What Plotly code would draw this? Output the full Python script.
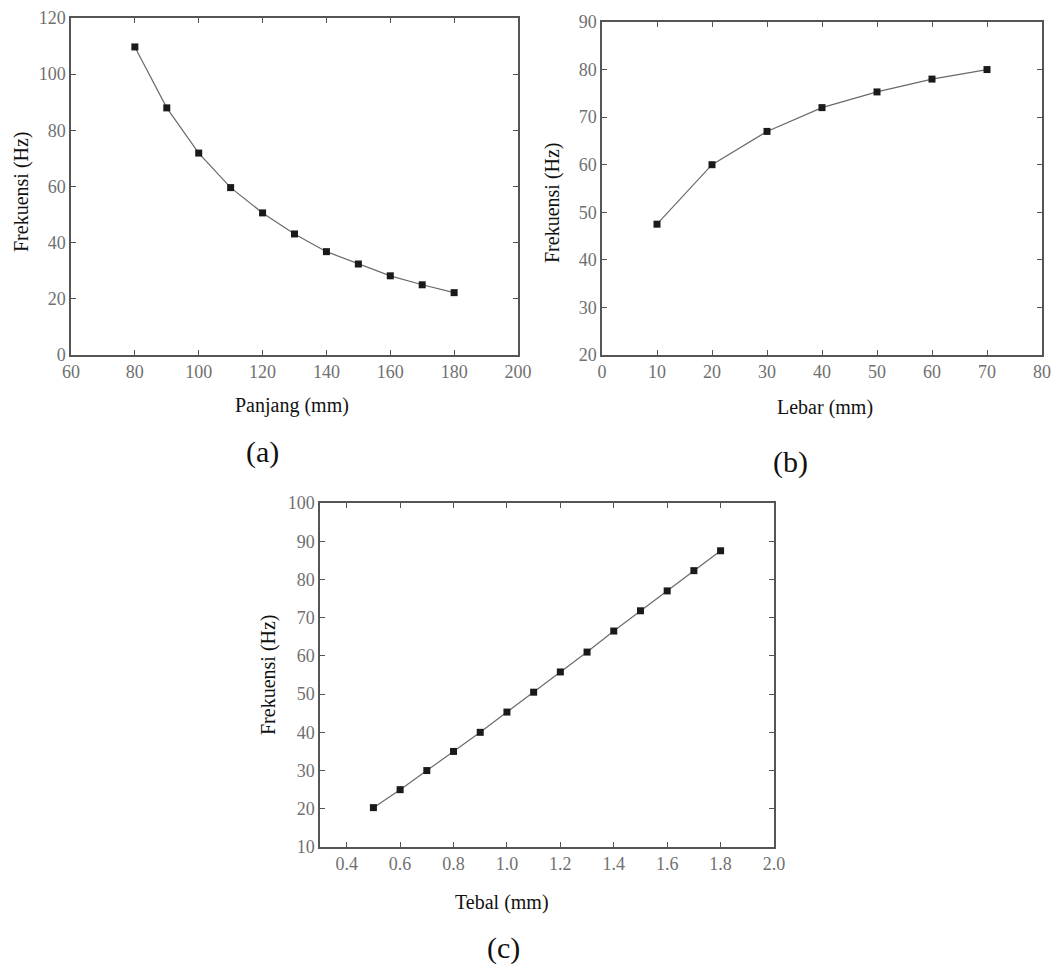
import plotly.graph_objects as go

W, H = 1056, 964

# (a) Panjang vs Frekuensi
panjang = [80, 90, 100, 110, 120, 130, 140, 150, 160, 170, 180]
frek_a = [109.7, 88.0, 71.9, 59.6, 50.6, 43.1, 36.8, 32.4, 28.2, 25.0, 22.2]

# (b) Lebar vs Frekuensi
lebar = [10, 20, 30, 40, 50, 60, 70]
frek_b = [47.5, 60.0, 67.0, 72.0, 75.3, 78.0, 80.0]

# (c) Tebal vs Frekuensi
tebal = [0.5, 0.6, 0.7, 0.8, 0.9, 1.0, 1.1, 1.2, 1.3, 1.4, 1.5, 1.6, 1.7, 1.8]
frek_c = [20.3, 25.0, 30.0, 35.0, 40.0, 45.3, 50.5, 55.8, 61.0, 66.5, 71.8, 77.0, 82.3, 87.5]

ticks_a_x = [60, 80, 100, 120, 140, 160, 180, 200]
ticks_a_y = [0, 20, 40, 60, 80, 100, 120]
ticks_b_x = [0, 10, 20, 30, 40, 50, 60, 70, 80]
ticks_b_y = [20, 30, 40, 50, 60, 70, 80, 90]
ticks_c_x = [0.4, 0.6, 0.8, 1.0, 1.2, 1.4, 1.6, 1.8, 2.0]
ticks_c_y = [10, 20, 30, 40, 50, 60, 70, 80, 90, 100]

FONT = "'Liberation Serif', 'DejaVu Serif', 'Times New Roman', serif"


def px_x(p):
    return p / W


def px_y(p):
    return 1 - p / H


line_style = dict(color="#6a6a6a", width=1.2)
marker_style = dict(symbol="square", size=7, color="#1a1a1a")

fig = go.Figure()
fig.add_trace(go.Scatter(x=panjang, y=frek_a, mode="lines+markers", line=line_style,
                         marker=marker_style, xaxis="x", yaxis="y", showlegend=False))
fig.add_trace(go.Scatter(x=lebar, y=frek_b, mode="lines+markers", line=line_style,
                         marker=marker_style, xaxis="x2", yaxis="y2", showlegend=False))
fig.add_trace(go.Scatter(x=tebal, y=frek_c, mode="lines+markers", line=line_style,
                         marker=marker_style, xaxis="x3", yaxis="y3", showlegend=False))


def ax(domain, rng, tickvals, anchor, fmt=None):
    d = dict(domain=domain, range=rng, tickvals=tickvals, anchor=anchor,
             showline=True, linecolor="#555555", linewidth=1.5, mirror="ticks",
             ticks="inside", ticklen=5, tickcolor="#555555", tickwidth=1,
             showgrid=False, zeroline=False, automargin=False,
             tickfont=dict(family=FONT, size=18, color="#707070"))
    if fmt:
        d["tickformat"] = fmt
    return d


layout = dict(
    width=W, height=H,
    margin=dict(l=0, r=0, t=0, b=0, autoexpand=False),
    paper_bgcolor="white", plot_bgcolor="white",
    font=dict(family=FONT),
    xaxis=ax([px_x(71), px_x(518)], [60, 200], ticks_a_x, "y"),
    yaxis=ax([px_y(355), px_y(18)], [0, 120], ticks_a_y, "x"),
    xaxis2=ax([px_x(602), px_x(1042)], [0, 80], ticks_b_x, "y2"),
    yaxis2=ax([px_y(355), px_y(22)], [20, 90], ticks_b_y, "x2"),
    xaxis3=ax([px_x(320), px_x(774)], [0.3, 2.0], ticks_c_x, "y3", ".1f"),
    yaxis3=ax([px_y(847), px_y(503)], [10, 100], ticks_c_y, "x3"),
)
fig.update_layout(**layout)

ann = []


def text(x, y, s, size, angle=0):
    ann.append(dict(x=px_x(x), y=px_y(y), xref="paper", yref="paper", text=s,
                    showarrow=False, textangle=angle, xanchor="center", yanchor="middle",
                    font=dict(family=FONT, size=size, color="#111111")))


# axis titles
text(292, 405, "Panjang (mm)", 20)
text(825, 407, "Lebar (mm)", 20)
text(502, 902, "Tebal (mm)", 20)
text(22, 192, "Frekuensi (Hz)", 20, -90)
text(552, 203, "Frekuensi (Hz)", 20, -90)
text(268, 675, "Frekuensi (Hz)", 20, -90)
# panel labels
text(262, 452, "(a)", 30)
text(790, 462, "(b)", 30)
text(503, 948, "(c)", 30)

fig.update_layout(annotations=ann)
fig.write_html(
    "out.html",
    config={"displayModeBar": False},
    post_script="document.documentElement.style.overflow='hidden';"
                "document.body.style.margin='0';document.body.style.overflow='hidden';",
)
